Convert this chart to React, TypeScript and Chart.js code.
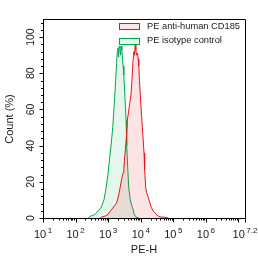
import React, { useEffect, useRef } from "react";
import { Chart, registerables } from "chart.js";

Chart.register(...registerables);

// PE-H position as log10 exponent, and count (%)
const cd185Exp = [2.75, 2.8, 2.9, 3.0, 3.05, 3.12, 3.2, 3.25, 3.3, 3.34, 3.37, 3.42, 3.46, 3.48, 3.5, 3.53, 3.56, 3.59, 3.62, 3.66, 3.7, 3.73, 3.76, 3.79, 3.81, 3.83, 3.85, 3.87, 3.9, 3.92, 3.94, 3.96, 3.99, 4.02, 4.05, 4.08, 4.1, 4.12, 4.15, 4.18, 4.22, 4.27, 4.32, 4.38, 4.43, 4.5, 4.55, 4.62, 4.7, 4.79, 4.85];
const cd185Count = [0, 0.5, 1, 2, 3.5, 5, 7, 8, 11, 14, 17, 22, 25, 27, 32, 38, 45, 54, 58, 63, 68, 76, 86, 92, 90, 96, 93, 90, 91, 88, 84, 76, 67, 58, 50, 42, 36, 27, 17, 14, 12, 9, 6, 4, 3, 1.5, 1, 0.5, 0.5, 0.3, 0];

const isoExp = [2.4, 2.45, 2.55, 2.62, 2.7, 2.79, 2.87, 2.94, 3.0, 3.05, 3.1, 3.14, 3.17, 3.2, 3.23, 3.26, 3.28, 3.3, 3.32, 3.34, 3.36, 3.38, 3.4, 3.42, 3.44, 3.46, 3.48, 3.52, 3.55, 3.57, 3.6, 3.63, 3.68, 3.72, 3.76, 3.8, 3.86, 3.95];
const isoCount = [0, 1, 1.5, 2.5, 4, 6, 10, 17, 25, 34, 42, 50, 58, 67, 76, 86, 92, 94, 89, 95, 94, 90, 95, 93, 88, 84, 79, 65, 54, 40, 28, 17, 10, 7, 5, 2, 0.5, 0];

const seriesLabels = ["PE anti-human CD185", "PE isotype control"];
const lineColors = ["#e8141b", "#00a651"];
const fillColors = ["rgba(237,28,36,0.12)", "rgba(0,166,81,0.10)"];

const yMajorTicks = [0, 20, 40, 60, 80, 100];
const yMinorStep = 4;
const yMax = 110;
const xMinExp = 1;
const xMaxExp = 7.2;
const xLabelExps = [1, 2, 3, 4, 5, 6, 7.2];
const xTitle = "PE-H";
const yTitle = "Count (%)";

const FONT = "'Liberation Sans', Arial, sans-serif";
const TEXT = "#1a1a1a";

const toPoints = (exps: number[], counts: number[]) =>
  exps.map((e, i) => ({ x: Math.pow(10, e), y: counts[i] }));

const decorPlugin = {
  id: "decor",
  afterDraw(chart: any) {
    const ctx = chart.ctx as CanvasRenderingContext2D;
    const { left, right, top, bottom } = chart.chartArea;
    const xs = chart.scales.x;
    const ys = chart.scales.y;
    ctx.save();
    ctx.strokeStyle = "#000";
    ctx.lineWidth = 1;
    // frame top and right
    ctx.beginPath();
    ctx.moveTo(Math.round(left), Math.round(top) + 0.5);
    ctx.lineTo(Math.round(right) + 0.5, Math.round(top) + 0.5);
    ctx.lineTo(Math.round(right) + 0.5, Math.round(bottom) + 0.5);
    ctx.stroke();

    // y ticks
    const ax = Math.round(left) + 0.5;
    ctx.beginPath();
    for (let v = 0; v <= yMax; v += yMinorStep) {
      const py = Math.round(ys.getPixelForValue(v)) + 0.5;
      const major = yMajorTicks.includes(v);
      ctx.moveTo(ax, py);
      ctx.lineTo(ax - (major ? 4 : 2.5), py);
    }
    for (const v of yMajorTicks) {
      if (v % yMinorStep === 0) continue;
      const py = Math.round(ys.getPixelForValue(v)) + 0.5;
      ctx.moveTo(ax, py);
      ctx.lineTo(ax - 4, py);
    }
    ctx.stroke();

    // x ticks
    const ay = Math.round(bottom) + 0.5;
    ctx.beginPath();
    for (let d = Math.floor(xMinExp); d <= Math.ceil(xMaxExp); d++) {
      for (let m = 1; m <= 9; m++) {
        const val = m * Math.pow(10, d);
        const e = Math.log10(val);
        if (e < xMinExp - 1e-9 || e > xMaxExp + 1e-9) continue;
        const px = Math.round(xs.getPixelForValue(val)) + 0.5;
        ctx.moveTo(px, ay);
        ctx.lineTo(px, ay + (m === 1 ? 4 : 2));
      }
    }
    {
      const px = Math.round(xs.getPixelForValue(Math.pow(10, xMaxExp))) + 0.5;
      ctx.moveTo(px, ay);
      ctx.lineTo(px, ay + 4);
    }
    ctx.stroke();

    // y labels rotated
    ctx.fillStyle = TEXT;
    ctx.font = `10.5px ${FONT}`;
    ctx.textAlign = "center";
    ctx.textBaseline = "middle";
    for (const v of yMajorTicks) {
      const py = ys.getPixelForValue(v);
      ctx.save();
      ctx.translate(31, py);
      ctx.rotate(-Math.PI / 2);
      ctx.fillText(String(v), 0, 0);
      ctx.restore();
    }

    // x labels with superscripts
    ctx.textBaseline = "alphabetic";
    ctx.textAlign = "left";
    for (const e of xLabelExps) {
      const px = xs.getPixelForValue(Math.pow(10, e));
      const base = "10";
      const sup = String(e);
      ctx.font = `11px ${FONT}`;
      const wb = ctx.measureText(base).width;
      ctx.font = `8px ${FONT}`;
      const ws = ctx.measureText(sup).width;
      const gap = 1.5;
      const total = wb + gap + ws;
      const x0 = px - total / 2;
      ctx.font = `11px ${FONT}`;
      ctx.fillText(base, x0, 238);
      ctx.font = `8px ${FONT}`;
      ctx.fillText(sup, x0 + wb + gap, 233);
    }

    // axis titles
    ctx.font = `11px ${FONT}`;
    ctx.textAlign = "center";
    ctx.textBaseline = "middle";
    ctx.fillText(xTitle, (left + right) / 2, 250);
    ctx.save();
    ctx.translate(10, 119);
    ctx.rotate(-Math.PI / 2);
    ctx.fillText(yTitle, 0, 0);
    ctx.restore();

    // legend
    const ds = chart.data.datasets;
    ctx.font = `9.3px ${FONT}`;
    ctx.textAlign = "left";
    ctx.textBaseline = "middle";
    const legendYs = [26, 40.5];
    ds.forEach((d: any, i: number) => {
      const cy = legendYs[i];
      ctx.fillStyle = "#fff";
      ctx.fillRect(119.5, cy - 3, 20, 6);
      ctx.fillStyle = d.backgroundColor;
      ctx.fillRect(119.5, cy - 3, 20, 6);
      ctx.strokeStyle = d.borderColor;
      ctx.lineWidth = 1;
      ctx.strokeRect(119.5, Math.round(cy - 3) + 0.5, 20, 6);
      ctx.fillStyle = TEXT;
      ctx.fillText(d.label, 147, cy);
    });
    ctx.restore();
  },
};

export default function App() {
  const ref = useRef<HTMLCanvasElement | null>(null);
  useEffect(() => {
    if (!ref.current) return;
    const chart = new Chart(ref.current, {
      type: "line",
      data: {
        datasets: [
          {
            label: seriesLabels[0],
            data: toPoints(cd185Exp, cd185Count),
            borderColor: lineColors[0],
            backgroundColor: fillColors[0],
            borderWidth: 1,
            pointRadius: 0,
            fill: "origin",
            tension: 0,
          },
          {
            label: seriesLabels[1],
            data: toPoints(isoExp, isoCount),
            borderColor: lineColors[1],
            backgroundColor: fillColors[1],
            borderWidth: 1,
            pointRadius: 0,
            fill: "origin",
            tension: 0,
          },
        ],
      },
      options: {
        responsive: false,
        animation: false,
        devicePixelRatio: 1,
        layout: { padding: { top: 19, right: 13, left: 0, bottom: 0 } },
        plugins: { legend: { display: false }, tooltip: { enabled: false } },
        scales: {
          x: {
            type: "logarithmic",
            min: Math.pow(10, xMinExp),
            max: Math.pow(10, xMaxExp),
            grid: { display: false },
            ticks: { display: false },
            border: { display: true, color: "#000", width: 1 },
            afterFit: (s: any) => {
              s.height = 43;
            },
          },
          y: {
            type: "linear",
            min: 0,
            max: yMax,
            grid: { display: false },
            ticks: { display: false },
            border: { display: true, color: "#000", width: 1 },
            afterFit: (s: any) => {
              s.width = 43;
            },
          },
        },
      } as any,
      plugins: [decorPlugin],
    });
    return () => chart.destroy();
  }, []);
  return (
    <div style={{ position: "fixed", left: 0, top: 0, width: 258, height: 261, background: "#fff" }}>
      <canvas ref={ref} width={258} height={261} style={{ display: "block" }} />
    </div>
  );
}
